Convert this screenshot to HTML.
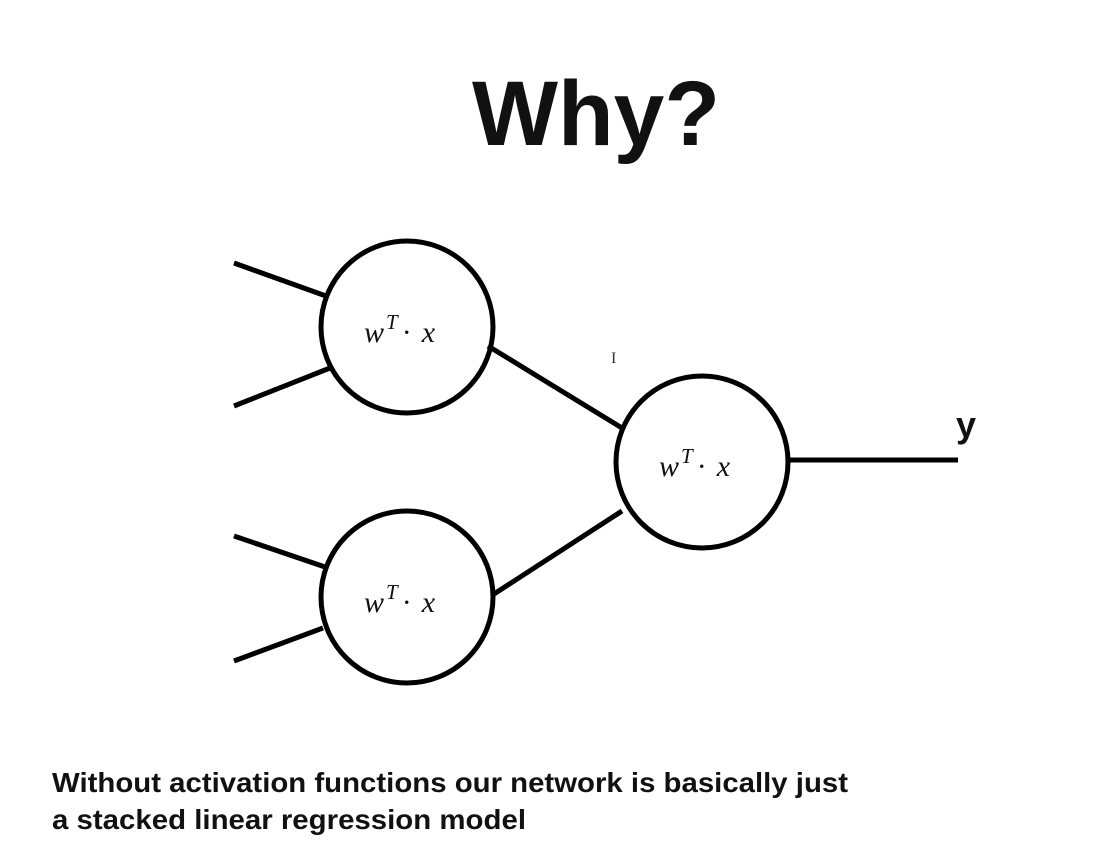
<!DOCTYPE html>
<html><head><style>html,body{margin:0;padding:0;background:#fff;}</style></head>
<body>
<svg width="1119" height="857" viewBox="0 0 1119 857" xmlns="http://www.w3.org/2000/svg">
<rect width="1119" height="857" fill="#fff"/>
<text x="472" y="145" font-family="Liberation Sans, sans-serif" font-weight="bold" font-size="92" textLength="248" lengthAdjust="spacingAndGlyphs" fill="#111">Why?</text>
<g stroke="#000" stroke-width="5" fill="none">
<circle cx="407" cy="327" r="86"/>
<circle cx="407" cy="597" r="86"/>
<circle cx="702" cy="462" r="86"/>
<line x1="234" y1="263" x2="326" y2="296"/>
<line x1="234" y1="406" x2="330" y2="368"/>
<line x1="234" y1="536" x2="328" y2="568"/>
<line x1="234" y1="661" x2="323" y2="628"/>
<line x1="488" y1="346" x2="622" y2="428"/>
<line x1="494" y1="594" x2="622" y2="511"/>
<line x1="790" y1="460" x2="958" y2="460"/>
</g>
<g font-family="Liberation Serif, serif" font-style="italic" font-size="30" fill="#111">
<text x="364" y="342">w<tspan font-size="21" dy="-13" dx="2">T</tspan><tspan dy="13" dx="4" font-style="normal">·</tspan><tspan dx="10">x</tspan></text>
<text x="364" y="612">w<tspan font-size="21" dy="-13" dx="2">T</tspan><tspan dy="13" dx="4" font-style="normal">·</tspan><tspan dx="10">x</tspan></text>
<text x="659" y="476">w<tspan font-size="21" dy="-13" dx="2">T</tspan><tspan dy="13" dx="4" font-style="normal">·</tspan><tspan dx="10">x</tspan></text>
</g>
<text x="611" y="363" font-family="Liberation Serif, serif" font-size="16" fill="#333">I</text>
<text x="956" y="437" font-family="Liberation Sans, sans-serif" font-weight="bold" font-size="36" fill="#111">y</text>
<g font-family="Liberation Sans, sans-serif" font-weight="bold" font-size="28" fill="#111">
<text x="52" y="792" textLength="796" lengthAdjust="spacingAndGlyphs">Without activation functions our network is basically just</text>
<text x="52" y="829" textLength="474" lengthAdjust="spacingAndGlyphs">a stacked linear regression model</text>
</g>
</svg>
</body></html>
